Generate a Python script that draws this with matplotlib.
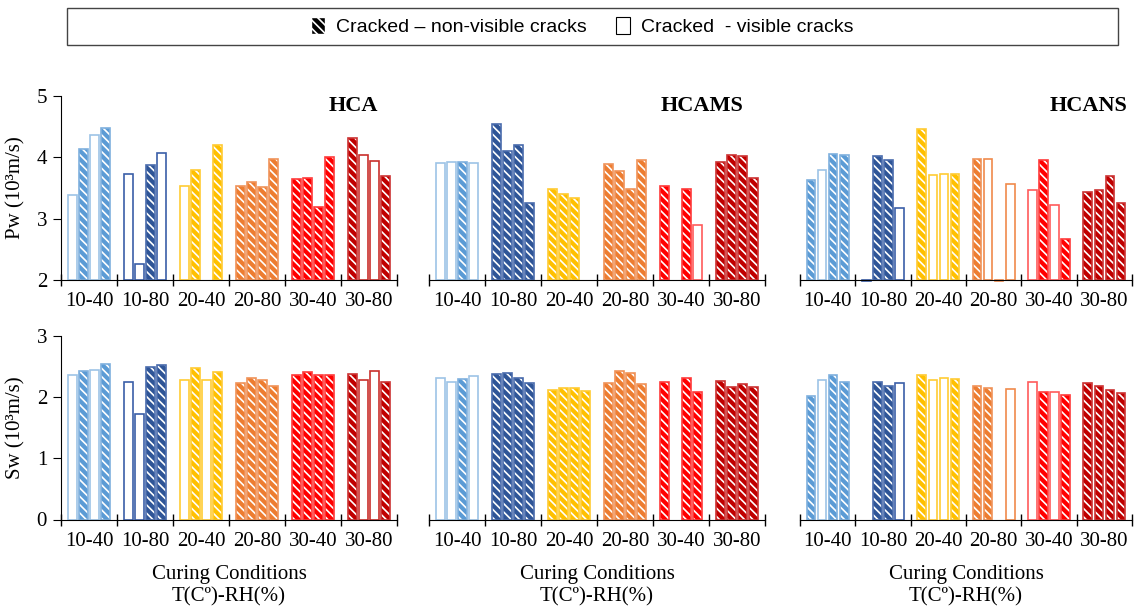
import numpy as np
import matplotlib.pyplot as plt
from matplotlib.patches import Patch, Rectangle

plt.rcParams['font.family'] = ['Liberation Serif', 'DejaVu Serif']
plt.rcParams['hatch.linewidth'] = 1.2

groups = ['10-40', '10-80', '20-40', '20-80', '30-40', '30-80']
mixes = ['HCA', 'HCAMS', 'HCANS']

# 4 specimens per curing condition; 'h' = non-visible cracks (hatched),
# 'o' = visible cracks (open), '-' = no bar
pw_hca = [3.38, 4.13, 4.36, 4.48, 3.73, 2.26, 3.88, 4.07, 3.53, 3.80, np.nan, 4.20,
          3.53, 3.60, 3.51, 3.97, 3.64, 3.66, 3.19, 4.01, 4.32, 4.04, 3.94, 3.70]
pw_hca_kind = "ohoh" "ooho" "oh-h" "hhhh" "hhhh" "hooh"
pw_hcams = [3.90, 3.92, 3.92, 3.90, 4.54, 4.11, 4.20, 3.25, 3.49, 3.41, 3.33, np.nan,
            3.89, 3.78, 3.49, 3.96, 3.54, np.nan, 3.49, 2.89, 3.92, 4.03, 4.02, 3.66]
pw_hcams_kind = "ooho" "hhhh" "hhh-" "hhhh" "h-ho" "hhhh"
pw_hcans = [3.63, 3.80, 4.05, 4.03, 1.98, 4.02, 3.95, 3.18, 4.46, 3.71, 3.73, 3.73,
            3.97, 3.97, 1.98, 3.56, 3.46, 3.96, 3.23, 2.67, 3.43, 3.46, 3.70, 3.25]
pw_hcans_kind = "hohh" "ohho" "hooh" "hooo" "ohoh" "hhhh"

sw_hca = [2.37, 2.43, 2.45, 2.55, 2.24, 1.72, 2.49, 2.53, 2.28, 2.48, 2.28, 2.41,
          2.23, 2.31, 2.28, 2.19, 2.36, 2.41, 2.36, 2.36, 2.38, 2.28, 2.43, 2.25]
sw_hca_kind = "ohoh" "oohh" "ohoh" "hhhh" "hhhh" "hooh"
sw_hcams = [2.32, 2.24, 2.30, 2.34, 2.38, 2.40, 2.32, 2.23, 2.12, 2.15, 2.15, 2.10,
            2.23, 2.43, 2.40, 2.21, 2.25, np.nan, 2.32, 2.08, 2.27, 2.16, 2.21, 2.17]
sw_hcams_kind = "ooho" "hhhh" "hhhh" "hhhh" "h-hh" "hhhh"
sw_hcans = [2.02, 2.28, 2.36, 2.25, np.nan, 2.25, 2.19, 2.23, 2.37, 2.28, 2.32, 2.30,
            2.19, 2.15, np.nan, 2.14, 2.25, 2.08, 2.08, 2.04, 2.23, 2.19, 2.12, 2.06]
sw_hcans_kind = "hohh" "-hho" "hooh" "hh-o" "ohoh" "hhhh"

fill_colors = ['#5B9BD5', '#2F5597', '#FFC000', '#ED7D31', '#FF0000', '#C00000']
edge_colors = ['#7FB0DE', '#4A6CAD', '#FFCB33', '#F0935A', '#FF3B3B', '#CC3333']
open_colors = ['#9DC3E6', '#3B5FA8', '#FFCC33', '#F08A4B', '#FF5B5B', '#C9302C']

W, H = 1134, 613
fig = plt.figure(figsize=(W / 100, H / 100), dpi=100)

panel_x = [(61, 397), (429, 765), (800, 1132)]
rows = [(96, 280, 2, 5, 'Pw (10³m/s)', [pw_hca, pw_hcams, pw_hcans],
         [pw_hca_kind, pw_hcams_kind, pw_hcans_kind]),
        (336, 519.5, 0, 3, 'Sw (10³m/s)', [sw_hca, sw_hcams, sw_hcans],
         [sw_hca_kind, sw_hcams_kind, sw_hcans_kind])]


def draw_bars(ax, values, kinds, base):
    for i, (v, k) in enumerate(zip(values, kinds)):
        if k == '-' or np.isnan(v):
            continue
        g = i // 4
        x = g + 0.2 + 0.2 * (i % 4)
        if k == 'h':
            ax.bar(x, v - base, bottom=base, width=0.155, color=fill_colors[g],
                   edgecolor='white', hatch=r'\\\\', linewidth=0, clip_on=False)
            ax.bar(x, v - base, bottom=base, width=0.155, fill=False,
                   edgecolor=edge_colors[g], linewidth=1.2, clip_on=False)
        else:
            ax.bar(x, v - base, bottom=base, width=0.155, color='white',
                   edgecolor=open_colors[g], linewidth=1.2, clip_on=False)


for r, (ytop, ybot, lo, hi, ylabel, data, kinds) in enumerate(rows):
    for c, (x0, x1) in enumerate(panel_x):
        ax = fig.add_axes([x0 / W, 1 - ybot / H, (x1 - x0) / W, (ybot - ytop) / H])
        draw_bars(ax, data[c], kinds[c], lo)
        ax.set_xlim(0, 6)
        ax.set_ylim(lo, hi)
        ax.spines[['top', 'right']].set_visible(False)
        ax.set_xticks(range(7))
        ax.set_xticklabels([])
        ax.set_xticks(np.arange(6) + 0.5, groups, minor=True)
        ax.tick_params(axis='x', which='major', direction='inout', length=9, width=1)
        ax.tick_params(axis='x', which='minor', length=0, labelsize=15, pad=9)
        if c == 0:
            ax.set_yticks(range(lo, hi + 1))
            ax.tick_params(axis='y', direction='out', length=6, labelsize=15, pad=4)
            ax.set_ylabel(ylabel, fontsize=15, labelpad=8)
        else:
            ax.spines['left'].set_visible(False)
            ax.set_yticks([])
        if r == 0:
            tx = [0.943, 0.935, 0.985][c]
            ax.text(tx, 1.0, mixes[c], transform=ax.transAxes, ha='right', va='top',
                    fontsize=16, fontweight='bold')
        else:
            ax.set_xlabel('Curing Conditions\nT(Cº)-RH(%)', fontsize=15, labelpad=10,
                          linespacing=1.25)

# legend strip across the top
fig.add_artist(Rectangle((67 / W, 1 - 45 / H), (1118 - 67) / W, 37 / H,
                         transform=fig.transFigure, fill=False,
                         edgecolor='#444444', linewidth=1.0))
handles = [Patch(facecolor='black', edgecolor='white', hatch=r'\\\\'),
           Patch(facecolor='white', edgecolor='black', linewidth=0.8)]
fig.legend(handles, ['Cracked – non-visible cracks', 'Cracked  - visible cracks'],
           loc='center', bbox_to_anchor=(582 / W, 1 - 26.5 / H), ncol=2,
           frameon=False, handlelength=0.75, handleheight=0.95, handletextpad=0.55,
           columnspacing=1.5,
           prop={'family': ['Liberation Sans'], 'size': 14})

fig.savefig('out.png', dpi=100)
